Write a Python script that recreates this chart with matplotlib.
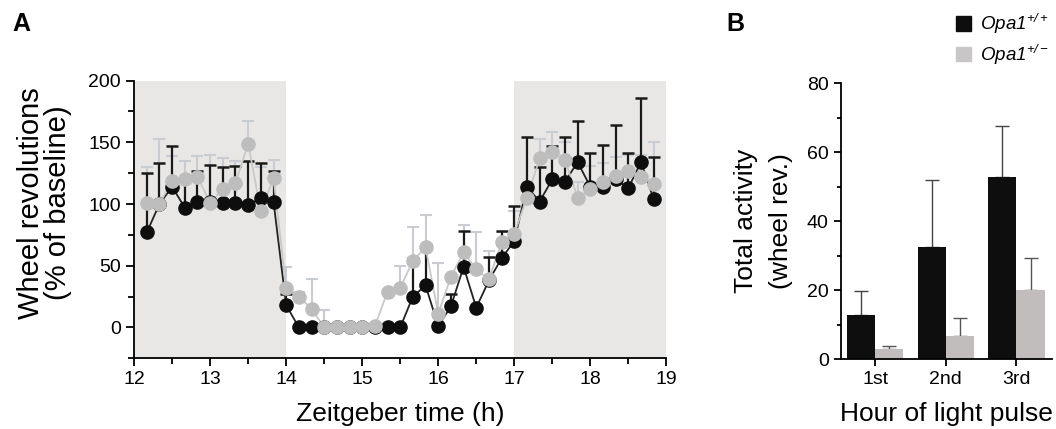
import numpy as np
import matplotlib
matplotlib.use('Agg')
from matplotlib import pyplot as plt
from matplotlib.patches import Patch
from matplotlib.ticker import MultipleLocator

plt.rcParams['font.family'] = ['Liberation Sans', 'DejaVu Sans']
plt.rcParams['mathtext.fontset'] = 'custom'
plt.rcParams['mathtext.it'] = 'Liberation Sans:italic'
plt.rcParams['mathtext.rm'] = 'Liberation Sans:italic'

# panel A: 10 min bins, ZT 12:10 .. 18:50
time_h = [12 + k / 6 for k in range(1, 42)]
wt_mean = [77, 100, 114, 97, 102, 102, 101, 101, 99, 105, 102,
           18, 0, 0, 0, 0, 0, 0, 0, 0, 0,
           25, 34, 1, 17, 49, 16, 38, 56, 70,
           114, 102, 120, 118, 134, 114, 114, 120, 113, 134, 104]
wt_top = [125, 133, 147, 120, 127, 132, 130, 131, 135, 133, 127,
          27, 0, 0, 0, 0, 0, 0, 3, 0, 0,
          56, 64, 1, 27, 78, 16, 57, 78, 98,
          154, 130, 147, 154, 167, 141, 148, 164, 141, 186, 138]
het_mean = [101, 100, 119, 120, 122, 101, 112, 117, 149, 94, 121,
            32, 25, 15, 0, 0, 0, 0, 1, 29, 32,
            54, 65, 11, 41, 61, 47, 39, 69, 76,
            105, 137, 142, 136, 105, 112, 118, 123, 127, 122, 116]
het_top = [130, 153, 139, 135, 139, 140, 137, 135, 167, 130, 136,
           49, 29, 39, 14, 0, 0, 0, 2, 29, 50,
           81, 91, 52, 41, 83, 77, 62, 77, 94,
           112, 153, 158, 150, 118, 131, 133, 138, 140, 140, 150]
dark_periods = [(12, 14), (17, 19)]

# panel B
hours = ['1st', '2nd', '3rd']
wt_total = [12.8, 32.5, 53.0]
wt_total_err = [7.0, 19.5, 14.7]
het_total = [2.9, 6.8, 20.2]
het_total_err = [0.9, 5.3, 9.2]

black = '#0e0e0e'
grey = '#bdbdbd'
grey_err = '#c9ccd0'
shade = '#e9e7e5'

fig = plt.figure(figsize=(10.56, 4.29), dpi=100)

ax = fig.add_axes([0.127, 0.165, 0.504, 0.647])
for a, b in dark_periods:
    ax.axvspan(a, b, color=shade, lw=0, zorder=0)

t = np.array(time_h)
wt = np.array(wt_mean)
het = np.array(het_mean)
wt_up = np.array(wt_top) - wt
het_up = np.array(het_top) - het

ax.errorbar(t, het, yerr=[np.zeros_like(het_up), het_up], fmt='none',
            ecolor=grey_err, elinewidth=1.5, capsize=4.5, capthick=1.5, zorder=2)
ax.errorbar(t, wt, yerr=[np.zeros_like(wt_up), wt_up], fmt='none',
            ecolor='#1a1a1a', elinewidth=1.6, capsize=4.5, capthick=1.8, zorder=3)
ax.plot(t, wt, '-', color='#222222', lw=1.3, zorder=4)
ax.plot(t, het, '-', color='#c8c8c8', lw=1.3, zorder=4)
ax.plot(t, wt, 'o', color=black, ms=9.5, mec=black, zorder=5)
ax.plot(t, het, 'o', color=grey, ms=9.5, mec=grey, zorder=6)

ax.set_xlim(12, 19)
ax.set_ylim(-25, 200)
ax.xaxis.set_major_locator(MultipleLocator(1))
ax.xaxis.set_minor_locator(MultipleLocator(0.5))
ax.yaxis.set_major_locator(MultipleLocator(50))
ax.yaxis.set_minor_locator(MultipleLocator(25))
for s in ['top', 'right']:
    ax.spines[s].set_visible(False)
for s in ['left', 'bottom']:
    ax.spines[s].set_linewidth(1.3)
ax.tick_params(which='major', length=6, width=1.3, labelsize=14)
ax.tick_params(which='minor', length=4, width=1.3)
ax.set_xlabel('Zeitgeber time (h)', fontsize=19, labelpad=10)
ax.set_ylabel('Wheel revolutions\n(% of baseline)', fontsize=21,
              linespacing=0.95)
ax.yaxis.set_label_coords(-0.117, 0.56)

# panel B
bx = fig.add_axes([0.796, 0.1625, 0.2, 0.643])
x = np.arange(len(hours))
w = 0.4
bx.bar(x - w / 2, wt_total, w, color=black, zorder=2)
bx.bar(x + w / 2, het_total, w, color='#c1bdbc', zorder=2)
bx.errorbar(x - w / 2, wt_total, yerr=[[0] * 3, wt_total_err], fmt='none',
            ecolor='#444444', elinewidth=1, capsize=5, capthick=1, zorder=1)
bx.errorbar(x + w / 2, het_total, yerr=[[0] * 3, het_total_err], fmt='none',
            ecolor='#555555', elinewidth=1, capsize=5, capthick=1, zorder=1)
bx.set_xlim(-0.49, 2.5)
bx.set_ylim(0, 80)
bx.set_xticks(x)
bx.set_xticklabels(hours)
bx.yaxis.set_major_locator(MultipleLocator(20))
bx.yaxis.set_minor_locator(MultipleLocator(10))
for s in ['top', 'right']:
    bx.spines[s].set_visible(False)
for s in ['left', 'bottom']:
    bx.spines[s].set_linewidth(1.3)
bx.tick_params(which='major', length=5, width=1.3, labelsize=14)
bx.tick_params(which='minor', length=3, width=1.3)
bx.set_xlabel('Hour of light pulse', fontsize=19, labelpad=10)
bx.set_ylabel('Total activity\n(wheel rev.)', fontsize=19, linespacing=1.6, labelpad=10)

handles = [Patch(color=black), Patch(color='#c8c6c6')]
labels = [r'$Opa1^{+/+}$', r'$Opa1^{+/-}$']
fig.legend(handles, labels, loc='upper left', bbox_to_anchor=(0.898, 0.99),
           frameon=False, fontsize=13.5, handlelength=0.8, handleheight=0.8,
           handletextpad=0.5, labelspacing=0.35, borderaxespad=0)

fig.text(0.012, 0.945, 'A', fontsize=18, fontweight='bold', va='center')
fig.text(0.688, 0.945, 'B', fontsize=18, fontweight='bold', va='center')

fig.savefig('out.png', dpi=100)
